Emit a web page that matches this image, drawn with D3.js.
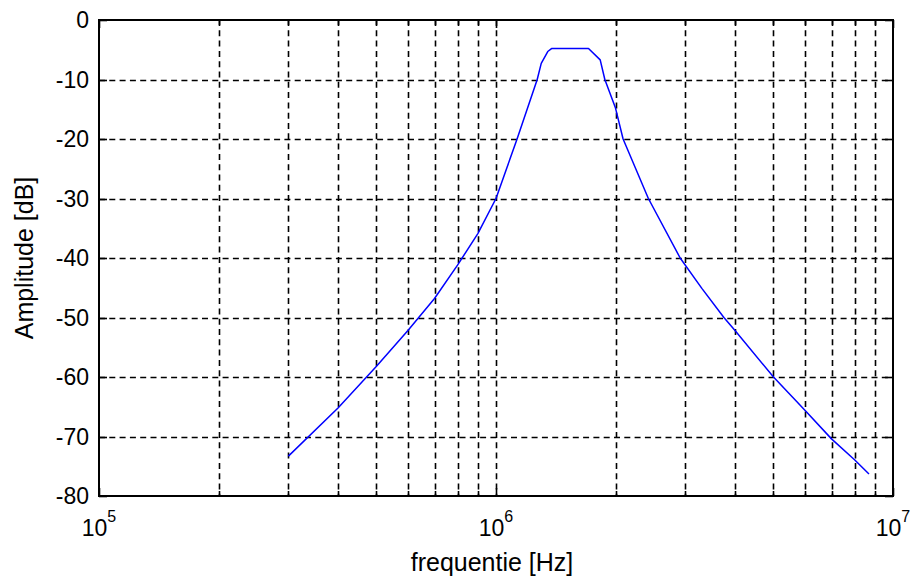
<!DOCTYPE html>
<html>
<head>
<meta charset="utf-8">
<script src="https://cdn.jsdelivr.net/npm/d3@7"></script>
<style>
  html, body { margin: 0; padding: 0; background: #fff; }
  svg { display: block; }
  text { font-family: "Liberation Sans", Arial, sans-serif; fill: #000; }
</style>
</head>
<body>
<svg id="chart" width="912" height="578"></svg>
<script>
// Frequencies [Hz] of the response curve
const freqs = [3e5, 4e5, 5e5, 6e5, 7e5, 8e5, 9e5, 1e6,
  1.13e6, 1.27e6, 1.30e6, 1.35e6, 1.38e6, 1.71e6, 1.83e6, 1.88e6, 2e6, 2.09e6,
  2.42e6, 2.91e6, 3.3e6, 3.75e6, 4e6, 5e6, 6e6, 7e6, 8e6, 8.7e6];
// Amplitude [dB]
const amps = [-73.3, -65.2, -58.2, -52.2, -46.8, -41.2, -35.9, -30,
  -20, -10, -7.3, -5.3, -4.8, -4.8, -6.7, -10, -14.8, -20,
  -30, -40, -45.1, -50, -52.2, -60, -65.6, -70.4, -73.9, -76.3];
// Axis ticks
const yTicks = [0, -10, -20, -30, -40, -50, -60, -70, -80];
const xMajorExp = [5, 6, 7];
const xMinorMult = [2, 3, 4, 5, 6, 7, 8, 9];
const xLabel = "frequentie [Hz]";
const yLabel = "Amplitude [dB]";

const svg = d3.select("#chart");
const L = 99, R = 893, T = 20, B = 496;

const x = d3.scaleLog().domain([1e5, 1e7]).range([L, R]);
const y = d3.scaleLinear().domain([-80, 0]).range([B, T]);

const minorFreqs = [];
xMajorExp.slice(0, -1).forEach(e => xMinorMult.forEach(m => minorFreqs.push(m * Math.pow(10, e))));
const majorFreqs = xMajorExp.map(e => Math.pow(10, e));
const allGridX = minorFreqs.concat(majorFreqs.slice(1, -1));

const dash = "6,4.3";
const grid = svg.append("g");
// vertical grid lines
grid.selectAll("line.vx").data(allGridX).enter().append("line")
  .attr("x1", d => Math.round(x(d)) + 0.5).attr("x2", d => Math.round(x(d)) + 0.5)
  .attr("y1", T).attr("y2", B)
  .attr("stroke", "#000").attr("stroke-width", 1.6).attr("stroke-dasharray", dash);
// horizontal grid lines
grid.selectAll("line.hy").data(yTicks.slice(1, -1)).enter().append("line")
  .attr("x1", L).attr("x2", R)
  .attr("y1", d => Math.round(y(d)) + 0.5).attr("y2", d => Math.round(y(d)) + 0.5)
  .attr("stroke", "#000").attr("stroke-width", 1.6).attr("stroke-dasharray", dash);

// ticks (inward) on all four sides
const ticks = svg.append("g").attr("stroke", "#000").attr("stroke-width", 1.6);
yTicks.forEach(v => {
  const yy = Math.round(y(v)) + 0.5;
  ticks.append("line").attr("x1", L).attr("x2", L + 8).attr("y1", yy).attr("y2", yy);
  ticks.append("line").attr("x1", R).attr("x2", R - 8).attr("y1", yy).attr("y2", yy);
});
majorFreqs.forEach(f => {
  const xx = Math.round(x(f)) + 0.5;
  ticks.append("line").attr("x1", xx).attr("x2", xx).attr("y1", B).attr("y2", B - 8);
  ticks.append("line").attr("x1", xx).attr("x2", xx).attr("y1", T).attr("y2", T + 8);
});
minorFreqs.forEach(f => {
  const xx = Math.round(x(f)) + 0.5;
  ticks.append("line").attr("x1", xx).attr("x2", xx).attr("y1", B).attr("y2", B - 5);
  ticks.append("line").attr("x1", xx).attr("x2", xx).attr("y1", T).attr("y2", T + 5);
});

// curve
const data = freqs.map((f, i) => [f, amps[i]]);
svg.append("path").datum(data)
  .attr("fill", "none").attr("stroke", "#0000ff").attr("stroke-width", 1.5)
  .attr("stroke-linejoin", "round")
  .attr("d", d3.line().x(d => x(d[0])).y(d => y(d[1])));

// frame
svg.append("rect").attr("x", L).attr("y", T).attr("width", R - L).attr("height", B - T)
  .attr("fill", "none").attr("stroke", "#000").attr("stroke-width", 2);

// y tick labels
svg.append("g").selectAll("text").data(yTicks).enter().append("text")
  .attr("x", L - 10).attr("y", d => y(d)).attr("dy", "0.36em")
  .attr("text-anchor", "end").attr("font-size", 23)
  .text(d => d3.format("d")(d).replace("−", "-"));

// x tick labels 10^n
const xl = svg.append("g").selectAll("text").data(xMajorExp).enter().append("text")
  .attr("x", d => x(Math.pow(10, d))).attr("y", 536)
  .attr("text-anchor", "middle").attr("font-size", 23);
xl.append("tspan").text("10");
xl.append("tspan").attr("font-size", 16).attr("dy", -14).text(d => d);

// axis labels
svg.append("text").attr("x", (L + R) / 2 - 4).attr("y", 571)
  .attr("text-anchor", "middle").attr("font-size", 25).text(xLabel);
svg.append("text").attr("transform", `translate(33,${(T + B) / 2}) rotate(-90)`)
  .attr("text-anchor", "middle").attr("font-size", 25).text(yLabel);
</script>
</body>
</html>
